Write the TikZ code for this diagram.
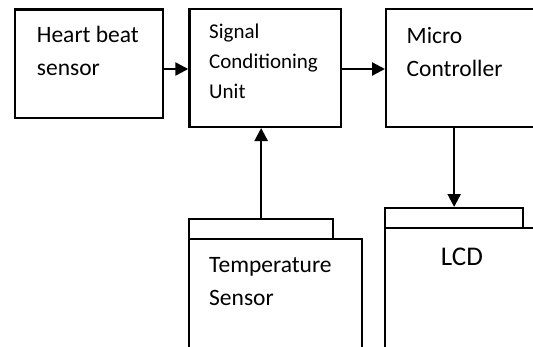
\documentclass[tikz,border=0pt]{standalone}
\usepackage{fontspec}
\setmainfont{Carlito}
\usetikzlibrary{arrows.meta}

\tikzset{
  blk/.style={draw, line width=2.3pt, anchor=north west, inner sep=0pt},
  lbl/.style={anchor=base west, align=left, inner sep=0pt, font=\fontsize{23.5}{33}\selectfont},
  lblsmall/.style={lbl, font=\fontsize{21}{30}\selectfont},
  arr/.style={line width=2.3pt, -{Triangle[length=13pt,width=13pt]}}
}

\begin{document}
\begin{tikzpicture}[x=1pt, y=-1pt]
    \useasboundingbox (0,0) rectangle (533,346);
    \clip (0,0) rectangle (533,346);
    % Bloku eile
    \node[blk, minimum width=147.7pt, minimum height=108.4pt] (heart) at (14,8.3) {};
    \node[blk, minimum width=151.7pt, minimum height=118pt] (sig) at (188.3,7.7) {};
    \node[blk, minimum width=180pt, minimum height=118pt] (micro) at (385,8) {};
    % Apatiniai blokai su ausele
    \node[blk, minimum width=144pt, minimum height=20pt] (temptab) at (188,218) {};
    \node[blk, minimum width=173pt, minimum height=130pt] (temp) at (188,238) {};
    \node[blk, minimum width=138pt, minimum height=20pt] (lcdtab) at (384,207) {};
    \node[blk, minimum width=180pt, minimum height=140pt] (lcd) at (384,227) {};
    % Uzrasai
    \node[lbl] (heartlbl) at (36.7,75.5) {Heart beat\\sensor};
    \node[lblsmall] (siglbl) at (209,98.3) {Signal\\Conditioning\\Unit};
    \node[lbl] (microlbl) at (406.5,76.5) {Micro\\Controller};
    \node[lbl] (templbl) at (209,305) {Temperature\\Sensor};
    \node[lbl, font=\fontsize{27}{33}\selectfont] (lcdlbl) at (440.7,265) {LCD};
    % Rodykles
    \draw[arr] (heart.east |- 0,69) -- (sig.west |- 0,69);
    \draw[arr] (sig.east |- 0,69) -- (micro.west |- 0,69);
    \draw[arr] (temptab.north) -- (temptab.north |- sig.south);
    \draw[arr] (micro.south -| lcdtab.north) -- (lcdtab.north);
\end{tikzpicture}
\end{document}
